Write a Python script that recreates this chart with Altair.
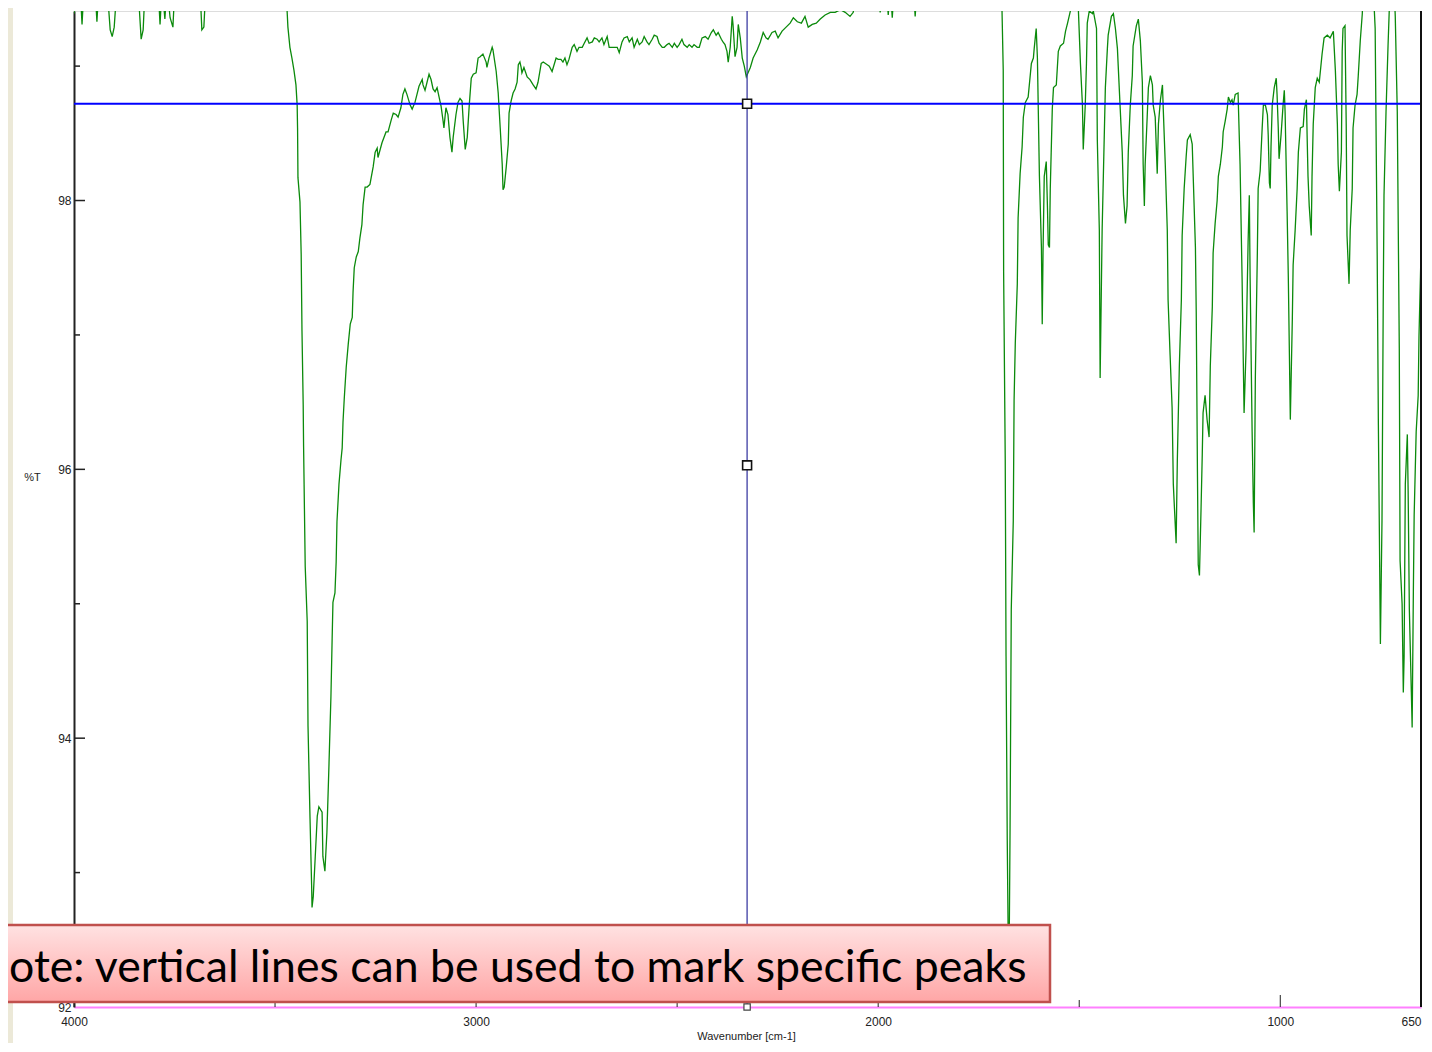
import altair as alt
import pandas as pd

# ---------------- data ----------------
wavenumber = [
    4000, 3995, 3985, 3980, 3975, 3948, 3943, 3938, 3918, 3910, 3905, 3900, 3893, 3841, 3833, 3828, 3823,
    3791, 3786, 3781, 3774, 3769, 3761, 3754, 3749, 3687, 3682, 3677, 3672, 3478, 3470,
    3468, 3463, 3458, 3453, 3448, 3445, 3444, 3443, 3438, 3435, 3433, 3430, 3429, 3425, 3420, 3418, 3413,
    3409, 3408, 3405, 3400, 3395, 3391, 3383, 3381, 3376, 3371, 3366, 3361, 3358, 3356, 3351, 3348, 3346,
    3341, 3336, 3333, 3331, 3328, 3327, 3323, 3318, 3313, 3308, 3306, 3303, 3298, 3293, 3289, 3284, 3281,
    3276, 3271, 3264, 3256, 3251, 3246, 3244, 3234, 3224, 3219, 3211, 3206, 3199, 3194, 3187, 3182, 3177,
    3172, 3164, 3159, 3152, 3147, 3142, 3134, 3132, 3127, 3122, 3117, 3112, 3107, 3102, 3097, 3092, 3087,
    3082, 3080, 3075, 3070, 3065, 3060, 3057, 3050, 3045, 3040, 3035, 3032, 3027, 3022, 3017, 3012, 3007,
    3000, 2995, 2990, 2983, 2975, 2973, 2968, 2960, 2958, 2950, 2945, 2940, 2935, 2933, 2930, 2925, 2920,
    2918, 2913, 2908, 2903, 2898, 2895, 2891, 2888, 2886, 2881, 2873, 2866, 2858, 2851, 2846, 2838, 2833,
    2823, 2818, 2811, 2806, 2801, 2796, 2789, 2784, 2779, 2774, 2769, 2761, 2756, 2749, 2744, 2736, 2731,
    2724, 2719, 2711, 2706, 2699, 2694, 2687, 2682, 2674, 2669, 2662, 2657, 2649, 2644, 2637, 2632, 2624,
    2619, 2612, 2607, 2599, 2594, 2587, 2582, 2575, 2570, 2562, 2557, 2550, 2545, 2537, 2532, 2525, 2520,
    2512, 2507, 2500, 2495, 2488, 2483, 2475, 2470, 2463, 2458, 2450, 2445, 2438, 2430, 2423, 2415, 2410,
    2403, 2398, 2390, 2386, 2381, 2376, 2373, 2368, 2363, 2361, 2356, 2351, 2348, 2343, 2338, 2333, 2328,
    2318, 2311, 2301, 2293, 2286, 2279, 2274, 2264, 2256, 2249, 2239, 2229, 2219, 2211, 2201, 2191, 2182,
    2174, 2164, 2154, 2144, 2132, 2119, 2107, 2094, 2082, 2070, 2062, 2055, 2000, 1995, 1990, 1980, 1975,
    1970, 1965, 1960, 1913, 1908, 1903, 1699, 1692,
    1689, 1688, 1684, 1682, 1679, 1677, 1676, 1674, 1672, 1669, 1664, 1662, 1659, 1654, 1652, 1647, 1642,
    1639, 1634, 1627, 1619, 1614, 1612, 1607, 1604, 1599, 1594, 1592, 1590, 1587, 1582, 1579, 1577, 1574,
    1572, 1567, 1564, 1557, 1552, 1547, 1539, 1534, 1529, 1522, 1517, 1507, 1502, 1497, 1492, 1490, 1485,
    1482, 1480, 1475, 1467, 1465, 1457, 1455, 1450, 1448, 1443, 1440, 1435, 1430, 1428, 1420, 1415, 1410,
    1405, 1403, 1398, 1393, 1390, 1385, 1381, 1378, 1373, 1368, 1366, 1358, 1353, 1348, 1343, 1341, 1338,
    1336, 1331, 1328, 1323, 1318, 1316, 1311, 1306, 1303, 1298, 1293, 1291, 1286, 1281, 1279, 1274, 1269,
    1266, 1259, 1256, 1251, 1246, 1244, 1239, 1234, 1231, 1224, 1219, 1216, 1211, 1209, 1206, 1204, 1201,
    1197, 1194, 1192, 1187, 1182, 1177, 1174, 1169, 1167, 1162, 1157, 1154, 1149, 1144, 1142, 1137, 1132,
    1129, 1124, 1120, 1117, 1112, 1105, 1100, 1095, 1092, 1090, 1085, 1080, 1077, 1075, 1070, 1067, 1065,
    1062, 1057, 1055, 1050, 1045, 1042, 1037, 1032, 1030, 1027, 1025, 1023, 1020, 1015, 1010, 1008, 1005,
    1003, 998, 993, 990, 988, 983, 980, 975, 970, 968, 963, 958, 955, 950, 943, 940, 935,
    933, 931, 928, 923, 921, 918, 913, 908, 903, 896, 891, 883, 876, 868, 863, 858, 856,
    853, 848, 846, 844, 839, 836, 834, 829, 826, 821, 819, 814, 809, 806, 801, 796, 794,
    769, 764, 759, 756, 751, 747, 744, 742, 737, 732, 729, 727, 717, 714, 709, 704, 702,
    697, 694, 692, 689, 684, 682, 679, 674, 672, 669, 667, 662, 657, 655, 650,
]

transmittance = [
    99.39, 99.6, 99.6, 99.31, 99.6, 99.6, 99.33, 99.6, 99.6, 99.27, 99.22, 99.29, 99.6, 99.6, 99.20, 99.27, 99.6,
    99.6, 99.31, 99.6, 99.35, 99.6, 99.36, 99.29, 99.6, 99.6, 99.27, 99.29, 99.6, 99.6, 99.41,
    99.29, 99.14, 99.06, 98.97, 98.86, 98.71, 98.54, 98.17, 97.99, 97.60, 97.03, 96.48, 96.17, 95.28, 94.87, 94.09, 93.40,
    92.90, 92.74, 92.82, 93.12, 93.42, 93.49, 93.45, 93.12, 93.01, 93.30, 93.79, 94.31, 94.74, 95.01, 95.08, 95.31, 95.61,
    95.89, 96.07, 96.16, 96.35, 96.52, 96.57, 96.76, 96.93, 97.08, 97.13, 97.32, 97.50, 97.58, 97.62, 97.72, 97.82, 97.97,
    98.10, 98.10, 98.12, 98.25, 98.36, 98.39, 98.32, 98.43, 98.51, 98.51, 98.60, 98.65, 98.64, 98.62, 98.69, 98.79, 98.83,
    98.79, 98.71, 98.68, 98.73, 98.79, 98.85, 98.90, 98.86, 98.82, 98.88, 98.94, 98.90, 98.83, 98.81, 98.84, 98.77, 98.70,
    98.59, 98.54, 98.69, 98.64, 98.47, 98.36, 98.47, 98.64, 98.73, 98.76, 98.74, 98.59, 98.38, 98.47, 98.71, 98.91, 98.94,
    98.95, 99.06, 99.07, 99.09, 99.03, 98.99, 99.06, 99.14, 99.12, 98.96, 98.80, 98.54, 98.27, 98.08, 98.10, 98.25, 98.42,
    98.65, 98.74, 98.80, 98.83, 98.88, 99.01, 99.03, 98.99, 98.95, 98.99, 98.92, 98.90, 98.86, 98.83, 98.88, 99.02, 99.03,
    99.01, 99.00, 98.96, 99.01, 99.06, 99.05, 99.05, 99.03, 99.06, 99.01, 99.05, 99.14, 99.16, 99.11, 99.14, 99.14, 99.17,
    99.21, 99.17, 99.18, 99.21, 99.20, 99.18, 99.21, 99.16, 99.22, 99.14, 99.14, 99.14, 99.14, 99.10, 99.18, 99.21, 99.22,
    99.18, 99.21, 99.14, 99.20, 99.16, 99.18, 99.22, 99.18, 99.16, 99.20, 99.23, 99.22, 99.17, 99.14, 99.14, 99.16, 99.17,
    99.14, 99.17, 99.14, 99.16, 99.20, 99.16, 99.14, 99.16, 99.14, 99.16, 99.14, 99.14, 99.21, 99.22, 99.20, 99.25, 99.27,
    99.23, 99.25, 99.20, 99.18, 99.16, 99.11, 99.03, 99.14, 99.37, 99.31, 99.07, 99.14, 99.31, 99.21, 99.06, 99.00, 98.92,
    98.99, 99.06, 99.12, 99.18, 99.25, 99.21, 99.20, 99.25, 99.26, 99.21, 99.26, 99.29, 99.32, 99.36, 99.33, 99.32, 99.37,
    99.29, 99.31, 99.32, 99.35, 99.38, 99.40, 99.40, 99.42, 99.40, 99.37, 99.40, 99.6, 99.6, 99.40, 99.6, 99.6, 99.38,
    99.6, 99.36, 99.6, 99.6, 99.37, 99.6, 99.6, 99.41,
    98.97, 97.47, 96.07, 94.61, 93.24, 92.62, 92.32, 92.51, 93.33, 94.96, 95.62, 96.51, 96.94, 97.38, 97.87, 98.20, 98.40,
    98.62, 98.73, 98.77, 99.02, 99.06, 99.13, 99.28, 99.06, 98.18, 97.65, 97.08, 97.61, 98.18, 98.29, 97.95, 97.67, 97.65,
    98.09, 98.68, 98.84, 98.86, 99.11, 99.15, 99.17, 99.26, 99.32, 99.41, 99.6, 99.6, 99.41, 99.02, 98.71, 98.38, 98.71,
    99.02, 99.32, 99.41, 99.39, 99.41, 99.28, 98.45, 97.78, 96.68, 97.78, 98.18, 98.84, 99.13, 99.23, 99.37, 99.39, 99.28,
    99.13, 99.00, 98.68, 98.36, 98.04, 97.83, 97.96, 98.36, 98.71, 98.93, 99.15, 99.30, 99.35, 99.19, 98.88, 98.27, 97.96,
    98.27, 98.62, 98.84, 98.93, 98.86, 98.71, 98.62, 98.20, 98.57, 98.75, 98.86, 98.68, 98.27, 97.78, 97.26, 96.85, 96.46,
    95.89, 95.45, 96.07, 96.77, 97.26, 97.74, 98.09, 98.33, 98.45, 98.49, 98.42, 98.13, 97.65, 97.17, 95.98, 95.29, 95.21,
    95.71, 96.11, 96.42, 96.55, 96.37, 96.24, 96.77, 97.21, 97.61, 97.83, 98.00, 98.18, 98.27, 98.40, 98.51, 98.59, 98.68,
    98.77, 98.73, 98.75, 98.71, 98.79, 98.80, 98.27, 97.43, 96.81, 96.42, 96.90, 97.69, 98.04, 97.43, 96.28, 95.75, 95.53,
    96.68, 97.61, 98.09, 98.22, 98.54, 98.71, 98.71, 98.64, 98.49, 98.13, 98.09, 98.40, 98.71, 98.84, 98.91, 98.79, 98.54,
    98.31, 98.49, 98.71, 98.82, 98.66, 97.92, 97.43, 96.37, 97.12, 97.52, 97.78, 98.09, 98.36, 98.54, 98.55, 98.68, 98.75,
    98.45, 98.18, 97.96, 97.74, 98.18, 98.57, 98.84, 98.91, 98.88, 99.09, 99.21, 99.23, 99.21, 99.26, 98.97, 98.57, 98.27,
    98.07, 98.36, 99.11, 99.28, 99.30, 98.57, 97.74, 97.38, 97.78, 98.09, 98.54, 98.71, 98.79, 98.93, 99.19, 99.39, 99.6,
    99.6, 99.28, 97.61, 96.33, 94.70, 95.62, 97.21, 98.04, 98.66, 99.15, 99.41, 99.6, 99.6, 99.37, 98.66, 96.90, 95.32,
    95.00, 94.34, 94.61, 95.89, 96.26, 95.84, 94.96, 94.34, 94.08, 95.09, 95.66, 96.28, 96.55, 96.99, 97.61,
]

x_label_values = [4000, 3000, 2000, 1000, 650]
x_major_ticks = [4000, 3000, 2000, 1000]
x_minor_ticks = [3500, 2500, 1500]
y_label_values = [98, 96, 94, 92]
y_major_ticks = [98, 96, 94]
y_minor_ticks = [99, 97, 95, 93]
x_range = [650, 4000]
y_range = [92, 99.41]
cursor_wavenumber = [2326]
cursor_transmittance = [98.72]
marker_transmittance = [98.72, 96.03]
note_text = "ote: vertical lines can be used to mark specific peaks"

# ---------------- chart ----------------
W, H = 1347, 996

xscale = alt.Scale(domain=x_range, reverse=True, nice=False, zero=False)
yscale = alt.Scale(domain=y_range, nice=False, zero=False)

spec_df = pd.DataFrame({"wn": wavenumber, "T": transmittance, "i": list(range(len(wavenumber)))})
one = pd.DataFrame({"a": [0]})

x_axis = alt.Axis(
    values=x_label_values, format="d", ticks=False, tickSize=0, grid=False,
    domainColor="#FF80FF", domainWidth=2,
    labelFont="Liberation Sans", labelFontSize=12, labelColor="#222222",
    labelPadding=9, labelFlush=False, labelOverlap=False, labelBound=False,
    labelAlign={"condition": {"test": "datum.value == 650", "value": "right"}, "value": "center"},
    title="Wavenumber [cm-1]", titleFont="Liberation Sans", titleFontSize=11,
    titleFontWeight="normal", titleColor="#222222", titleX=672, titleY=23,
    titleAlign="center", titleBaseline="top",
)
y_axis = alt.Axis(
    values=y_label_values, format="d", ticks=False, tickSize=0, grid=False,
    domainColor="#222222", domainWidth=2,
    labelFont="Liberation Sans", labelFontSize=12, labelColor="#222222",
    labelPadding=3, labelOverlap=False, labelBound=False, labelFlush=False,
    title="%T", titleFont="Liberation Sans", titleFontSize=11, titleFontWeight="normal",
    titleColor="#222222", titleAngle=0, titleX=-42, titleY=466,
    titleAlign="center", titleBaseline="middle",
)

frame = alt.Chart(one).mark_rect(color="#ECE9D8").encode(
    x=alt.value(-66), x2=alt.value(-61), y=alt.value(-3), y2=alt.value(1034)
)

spectrum = alt.Chart(spec_df).mark_line(color="#0B8A0B", strokeWidth=1.3, clip=True).encode(
    x=alt.X("wn:Q", scale=xscale, axis=x_axis),
    y=alt.Y("T:Q", scale=yscale, axis=y_axis),
    order=alt.Order("i:Q"),
)

hcursor = alt.Chart(pd.DataFrame({"T": cursor_transmittance})).mark_rule(
    color="#0000FF", strokeWidth=1.8
).encode(y=alt.Y("T:Q", scale=yscale))

vcursor = alt.Chart(pd.DataFrame({"wn": cursor_wavenumber})).mark_rule(
    color="#3D3DA3", strokeWidth=1.3
).encode(x=alt.X("wn:Q", scale=xscale))

right_border = alt.Chart(pd.DataFrame({"wn": [x_range[0]]})).mark_rule(
    color="#111111", strokeWidth=2
).encode(x=alt.X("wn:Q", scale=xscale))

xt_major = alt.Chart(pd.DataFrame({"wn": x_major_ticks})).mark_rule(color="#222222", strokeWidth=1).encode(
    x=alt.X("wn:Q", scale=xscale), y=alt.value(H - 12), y2=alt.value(H)
)
xt_minor = alt.Chart(pd.DataFrame({"wn": x_minor_ticks})).mark_rule(color="#222222", strokeWidth=1).encode(
    x=alt.X("wn:Q", scale=xscale), y=alt.value(H - 7), y2=alt.value(H)
)
yt_major = alt.Chart(pd.DataFrame({"T": y_major_ticks})).mark_rule(color="#222222", strokeWidth=1.5).encode(
    y=alt.Y("T:Q", scale=yscale), x=alt.value(0), x2=alt.value(11)
)
yt_minor = alt.Chart(pd.DataFrame({"T": y_minor_ticks})).mark_rule(color="#222222", strokeWidth=1.5).encode(
    y=alt.Y("T:Q", scale=yscale), x=alt.value(0), x2=alt.value(6)
)

markers = alt.Chart(pd.DataFrame({"wn": cursor_wavenumber * 2, "T": marker_transmittance})).mark_point(
    shape="square", size=80, filled=True, fill="white", stroke="#111111", strokeWidth=1.6, opacity=1
).encode(x=alt.X("wn:Q", scale=xscale), y=alt.Y("T:Q", scale=yscale))

bottom_marker = alt.Chart(pd.DataFrame({"wn": cursor_wavenumber, "T": [y_range[0]]})).mark_point(
    shape="square", size=40, filled=True, fill="white", stroke="#444444", strokeWidth=1.2, opacity=1
).encode(x=alt.X("wn:Q", scale=xscale), y=alt.Y("T:Q", scale=yscale))

box = alt.Chart(one).mark_rect(
    fill=alt.Gradient(
        gradient="linear",
        stops=[alt.GradientStop(color="#FFE2E2", offset=0), alt.GradientStop(color="#FFA6A6", offset=1)],
        x1=0, x2=0, y1=0, y2=1,
    ),
    stroke="#C0504D", strokeWidth=2.5,
).encode(x=alt.value(-72), x2=alt.value(976), y=alt.value(914), y2=alt.value(991))

note = alt.Chart(one).mark_text(
    text=note_text, font="Lato", fontSize=44.6, align="left", baseline="alphabetic", color="#000000"
).encode(x=alt.value(-65), y=alt.value(971))

chart = alt.layer(
    frame, spectrum, hcursor, vcursor, right_border, xt_major, xt_minor, yt_major, yt_minor,
    markers, box, note, bottom_marker,
).properties(
    width=W, height=H,
    padding={"left": 66, "top": 3, "right": 3, "bottom": 36},
    autosize=alt.AutoSizeParams(type="none"),
).configure_view(strokeWidth=0, stroke=None).configure(background="white")

chart.save("out.html", embed_options={"renderer": "svg", "actions": False})
